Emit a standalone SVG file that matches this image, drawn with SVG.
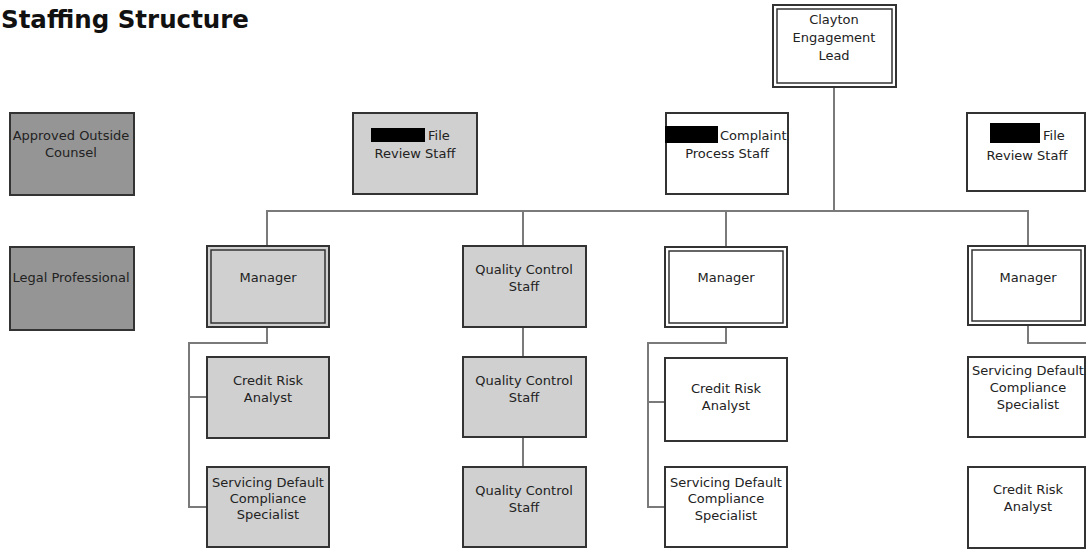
<svg xmlns="http://www.w3.org/2000/svg" width="1086" height="549" viewBox="0 0 1086 549">
<style>
.bg{fill:#ffffff}
.box{stroke:#333;stroke-width:2}
.inner{fill:none;stroke:#333;stroke-width:1.5}
.lg{fill:#d0d0d0}
.dg{fill:#959595}
.wh{fill:#ffffff}
.t{font-family:"DejaVu Sans",Verdana,sans-serif;font-size:13px;fill:#222;text-anchor:middle}
.tl{font-family:"DejaVu Sans",Verdana,sans-serif;font-size:13px;fill:#222}
.title{font-family:"DejaVu Sans",Verdana,sans-serif;font-size:24.5px;font-weight:bold;fill:#111}
.red{fill:#000}
.conn{fill:none;stroke:#7a7a7a;stroke-width:2}
</style>
<rect class="bg" x="0" y="0" width="1086" height="549"/>
<text class="title" x="1" y="28">Staffing Structure</text>

<g id="connectors">
<path class="conn" d="M834,87 V211"/>
<path class="conn" d="M267,247 V211 H1028 V247"/>
<path class="conn" d="M523,211 V247"/>
<path class="conn" d="M726,211 V247"/>
<path class="conn" d="M267,327 V343 H189 V507 H207 M189,397 H207"/>
<path class="conn" d="M523,327 V357 M523,437 V467"/>
<path class="conn" d="M726,327 V343 H648 V507 H665 M648,402 H665"/>
<path class="conn" d="M1028,325 V343 H1086"/>
</g>

<g id="clayton">
<rect class="box wh" x="773" y="5" width="123" height="82"/>
<rect class="inner" x="777" y="9" width="115" height="74"/>
<text class="t" x="834" y="24">Clayton</text>
<text class="t" x="834" y="42">Engagement</text>
<text class="t" x="834" y="60">Lead</text>
</g>

<g id="outside-counsel">
<rect class="box dg" x="10" y="113" width="124" height="82"/>
<text class="t" x="71" y="140">Approved Outside</text>
<text class="t" x="71" y="157">Counsel</text>
</g>

<g id="legal-professional">
<rect class="box dg" x="10" y="247" width="124" height="83"/>
<text class="t" x="71" y="282">Legal Professional</text>
</g>

<g id="file-review-left">
<rect class="box lg" x="353" y="113" width="124" height="81"/>
<rect class="red" x="371" y="128" width="54" height="14"/>
<text class="tl" x="428" y="140">File</text>
<text class="t" x="415" y="158">Review Staff</text>
</g>

<g id="complaint-process">
<rect class="box wh" x="666" y="113" width="122" height="81"/>
<rect class="red" x="665" y="126" width="53" height="17"/>
<text class="tl" x="720" y="140">Complaint</text>
<text class="t" x="727" y="158">Process Staff</text>
</g>

<g id="file-review-right">
<rect class="box wh" x="967" y="113" width="118" height="78"/>
<rect class="red" x="990" y="123" width="50" height="20"/>
<text class="tl" x="1043" y="140">File</text>
<text class="t" x="1027" y="160">Review Staff</text>
</g>

<g id="manager-1">
<rect class="box lg" x="207" y="246" width="122" height="81"/>
<rect class="inner" x="211" y="250" width="114" height="73"/>
<text class="t" x="268" y="282">Manager</text>
</g>

<g id="qc-1">
<rect class="box lg" x="463" y="246" width="123" height="81"/>
<text class="t" x="524" y="274">Quality Control</text>
<text class="t" x="524" y="291">Staff</text>
</g>

<g id="manager-3">
<rect class="box wh" x="665" y="247" width="122" height="80"/>
<rect class="inner" x="669" y="251" width="114" height="72"/>
<text class="t" x="726" y="282">Manager</text>
</g>

<g id="manager-4">
<rect class="box wh" x="968" y="246" width="117" height="79"/>
<rect class="inner" x="972" y="250" width="109" height="71"/>
<text class="t" x="1028" y="282">Manager</text>
</g>

<g id="credit-risk-1">
<rect class="box lg" x="207" y="357" width="122" height="81"/>
<text class="t" x="268" y="385">Credit Risk</text>
<text class="t" x="268" y="402">Analyst</text>
</g>

<g id="sdcs-1">
<rect class="box lg" x="207" y="467" width="122" height="80"/>
<text class="t" x="268" y="487">Servicing Default</text>
<text class="t" x="268" y="503">Compliance</text>
<text class="t" x="268" y="519">Specialist</text>
</g>

<g id="qc-2">
<rect class="box lg" x="463" y="357" width="123" height="80"/>
<text class="t" x="524" y="385">Quality Control</text>
<text class="t" x="524" y="402">Staff</text>
</g>

<g id="qc-3">
<rect class="box lg" x="463" y="467" width="123" height="80"/>
<text class="t" x="524" y="495">Quality Control</text>
<text class="t" x="524" y="512">Staff</text>
</g>

<g id="credit-risk-3">
<rect class="box wh" x="665" y="358" width="122" height="83"/>
<text class="t" x="726" y="393">Credit Risk</text>
<text class="t" x="726" y="410">Analyst</text>
</g>

<g id="sdcs-3">
<rect class="box wh" x="665" y="467" width="122" height="80"/>
<text class="t" x="726" y="487">Servicing Default</text>
<text class="t" x="726" y="503">Compliance</text>
<text class="t" x="726" y="520">Specialist</text>
</g>

<g id="sdcs-4">
<rect class="box wh" x="968" y="357" width="117" height="80"/>
<text class="t" x="1028" y="375">Servicing Default</text>
<text class="t" x="1028" y="392">Compliance</text>
<text class="t" x="1028" y="409">Specialist</text>
</g>

<g id="credit-risk-4">
<rect class="box wh" x="968" y="467" width="117" height="81"/>
<text class="t" x="1028" y="494">Credit Risk</text>
<text class="t" x="1028" y="511">Analyst</text>
</g>
</svg>
